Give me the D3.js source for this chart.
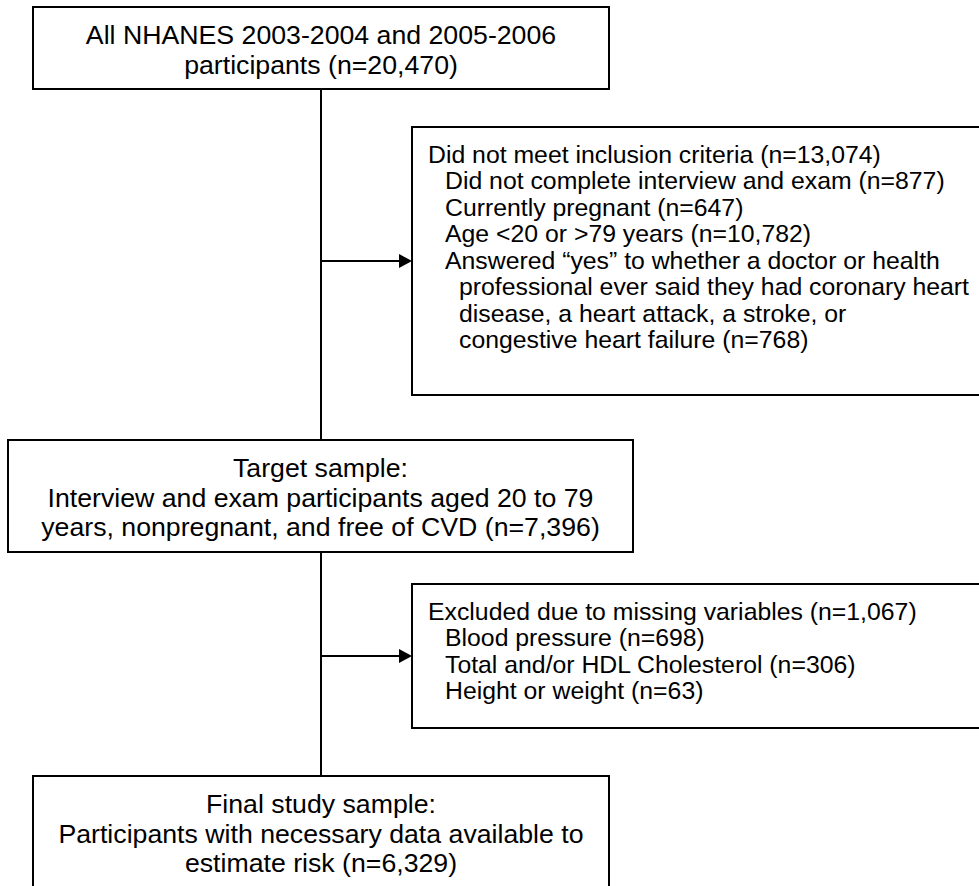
<!DOCTYPE html>
<html><head><meta charset="utf-8">
<script src="https://cdn.jsdelivr.net/npm/d3@7/dist/d3.min.js"></script>
<style>html,body{margin:0;padding:0;background:#fff;overflow:hidden} svg{display:block}</style>
</head><body>
<svg id="chart" width="979" height="886"></svg>
<script>
// ---- data ----
const fmt = d3.format(",");
const sampleCounts = [20470, 7396, 6329];
const exclusionTotals = [13074, 1067];
const criteriaCounts = [877, 647, 10782, 768];
const missingCounts = [698, 306, 63];

const topLines = ["All NHANES 2003-2004 and 2005-2006", `participants (n=${fmt(sampleCounts[0])})`];
const targetLines = ["Target sample:", "Interview and exam participants aged 20 to 79", `years, nonpregnant, and free of CVD (n=${fmt(sampleCounts[1])})`];
const finalLines = ["Final study sample:", "Participants with necessary data available to", `estimate risk (n=${fmt(sampleCounts[2])})`];
const exclusion1Lines = [
  [`Did not meet inclusion criteria (n=${fmt(exclusionTotals[0])})`, 0],
  [`Did not complete interview and exam (n=${fmt(criteriaCounts[0])})`, 1],
  [`Currently pregnant (n=${fmt(criteriaCounts[1])})`, 1],
  [`Age <20 or >79 years (n=${fmt(criteriaCounts[2])})`, 1],
  ["Answered \u201cyes\u201d to whether a doctor or health", 1],
  ["professional ever said they had coronary heart", 2],
  ["disease, a heart attack, a stroke, or", 2],
  [`congestive heart failure (n=${fmt(criteriaCounts[3])})`, 2]
];
const exclusion2Lines = [
  [`Excluded due to missing variables (n=${fmt(exclusionTotals[1])})`, 0],
  [`Blood pressure (n=${fmt(missingCounts[0])})`, 1],
  [`Total and/or HDL Cholesterol (n=${fmt(missingCounts[1])})`, 1],
  [`Height or weight (n=${fmt(missingCounts[2])})`, 1]
];

// ---- layout ----
const FONT = "Arial, 'Liberation Sans', sans-serif";
const svg = d3.select("#chart");
const trunkX = 321;
const boxes = [
  {x: 33, y: 7, w: 576, h: 82, lines: topLines, center: true},
  {x: 412, y: 127, w: 575, h: 268, lines: exclusion1Lines, center: false},
  {x: 8, y: 440, w: 625, h: 112, lines: targetLines, center: true},
  {x: 412, y: 584, w: 575, h: 144, lines: exclusion2Lines, center: false},
  {x: 33, y: 776, w: 576, h: 115, lines: finalLines, center: true}
];

// trunk
svg.append("line").attr("x1", trunkX).attr("x2", trunkX).attr("y1", 89).attr("y2", 776)
  .attr("stroke", "#000").attr("stroke-width", 2);

// arrows to side boxes
[boxes[1], boxes[3]].forEach(b => {
  const ay = b.y + b.h / 2;
  svg.append("line").attr("x1", trunkX).attr("x2", b.x - 10).attr("y1", ay).attr("y2", ay)
    .attr("stroke", "#000").attr("stroke-width", 2);
  svg.append("path").attr("d", `M${b.x - 13},${ay - 7}L${b.x},${ay}L${b.x - 13},${ay + 7}Z`).attr("fill", "#000");
});

boxes.forEach(b => {
  svg.append("rect").attr("x", b.x).attr("y", b.y).attr("width", b.w).attr("height", b.h)
    .attr("fill", "#fff").attr("stroke", "#000").attr("stroke-width", 2);
  if (b.center) {
    const fs = 26.7, lh = 29.5;
    svg.append("g").selectAll("text").data(b.lines).join("text")
      .attr("x", b.x + b.w / 2)
      .attr("y", (d, i) => b.y + 28 + i * lh + fs * 0.35)
      .attr("text-anchor", "middle")
      .attr("font-family", FONT).attr("font-size", fs).attr("fill", "#000")
      .text(d => d);
  } else {
    const fs = 24.8, lh = 26.5;
    const indent = [16, 33, 47];
    svg.append("g").selectAll("text").data(b.lines).join("text")
      .attr("x", d => b.x + indent[d[1]])
      .attr("y", (d, i) => b.y + 27 + i * lh + fs * 0.35)
      .attr("font-family", FONT).attr("font-size", fs).attr("fill", "#000")
      .text(d => d[0]);
  }
});
</script>
</body></html>
